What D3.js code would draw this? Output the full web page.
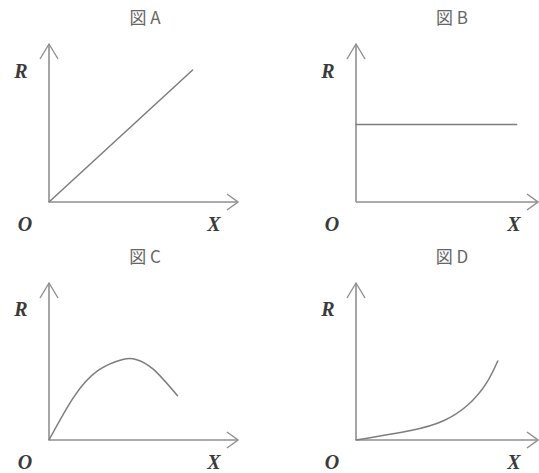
<!DOCTYPE html>
<html>
<head>
<meta charset="utf-8">
<script src="https://cdn.jsdelivr.net/npm/d3@7"></script>
<style>
  body { margin: 0; background: #fff; }
  svg { display: block; }
</style>
</head>
<body>
<div id="chart"></div>
<script>
// panel titles
const titles = ["図 A", "図 B", "図 C", "図 D"];

// curve values in axis units (x: 0..10, y: 0..10)
const lineA = [[0, 0], [7.6, 8.35]];
const lineB = [[0, 4.9], [8.5, 4.9]];
const curveC = [[0, 0], [1.3, 2.7], [2.6, 4.4], [3.9, 5.1],
                [4.6, 5.1], [5.5, 4.5], [6.8, 2.8]];
const curveD = [[0, 0], [2.9, 0.6], [4.6, 1.2], [5.9, 2.2],
                [6.9, 3.6], [7.5, 5.0]];

const series = [lineA, lineB, curveC, curveD];

// axis labels
const yLabel = "R", xLabel = "X", originLabel = "O";

const width = 539, height = 473;

// where each little plot sits (origin pixel and axis lengths)
const layout = [
    {ox: 49,  oy: 202, w: 189, h: 158},
    {ox: 356, oy: 202, w: 182, h: 158},
    {ox: 49,  oy: 440, w: 189, h: 157},
    {ox: 356, oy: 440, w: 182, h: 157}
];

const axisColor = "#8f8f8f",
      curveColor = "#7d7d7d";

let svg = d3.select("#chart")
    .append("svg")
    .attr("width", width)
    .attr("height", height);

function drawPanel(i) {
    let p = layout[i];
    let g = svg.append("g")
        .attr("transform", "translate(" + p.ox + "," + p.oy + ")");

    // scales share the same 0..10 unit box
    let x = d3.scaleLinear().domain([0, 10]).range([0, 189]);
    let y = d3.scaleLinear().domain([0, 10]).range([0, -158]);

    // axes with open arrow heads
    g.append("line")
        .attr("x1", 0).attr("y1", 0)
        .attr("x2", p.w).attr("y2", 0)
        .attr("stroke", axisColor)
        .attr("stroke-width", 1.6);
    g.append("polyline")
        .attr("points", [[p.w - 11, -8], [p.w, 0], [p.w - 11, 8]].join(" "))
        .attr("fill", "none")
        .attr("stroke", axisColor)
        .attr("stroke-width", 1.4);

    g.append("line")
        .attr("x1", 0).attr("y1", 0)
        .attr("x2", 0).attr("y2", -p.h)
        .attr("stroke", axisColor)
        .attr("stroke-width", 1.6);
    g.append("polyline")
        .attr("points", [[-9, -p.h + 15], [0, -p.h], [9, -p.h + 15]].join(" "))
        .attr("fill", "none")
        .attr("stroke", axisColor)
        .attr("stroke-width", 1.4);

    let line = d3.line()
        .x(function (d) { return x(d[0]); })
        .y(function (d) { return y(d[1]); })
        .curve(d3.curveNatural);

    g.append("path")
        .datum(series[i])
        .attr("fill", "none")
        .attr("stroke", curveColor)
        .attr("stroke-width", 1.5)
        .attr("stroke-linecap", "round")
        .attr("d", line);

    // title
    g.append("text")
        .attr("x", 96)
        .attr("y", -p.h - 20)
        .attr("text-anchor", "middle")
        .attr("fill", "#666")
        .style("font-family", "'Noto Sans CJK JP', 'Noto Sans', sans-serif")
        .style("font-size", "17px")
        .text(titles[i]);

    let labelStyle = function (sel) {
        sel.attr("fill", "#3a3a3a")
            .style("font-family", "'Liberation Serif', 'DejaVu Serif', serif")
            .style("font-weight", "bold")
            .style("font-style", "italic")
            .style("font-size", "20px")
            .attr("text-anchor", "middle");
    };

    g.append("text")
        .attr("x", -28)
        .attr("y", -124)
        .call(labelStyle)
        .text(yLabel);

    g.append("text")
        .attr("x", -24)
        .attr("y", 29)
        .call(labelStyle)
        .text(originLabel);

    g.append("text")
        .attr("x", p.w - 24)
        .attr("y", 29)
        .call(labelStyle)
        .text(xLabel);
}

titles.forEach(function (t, i) { drawPanel(i); });
</script>
</body>
</html>
